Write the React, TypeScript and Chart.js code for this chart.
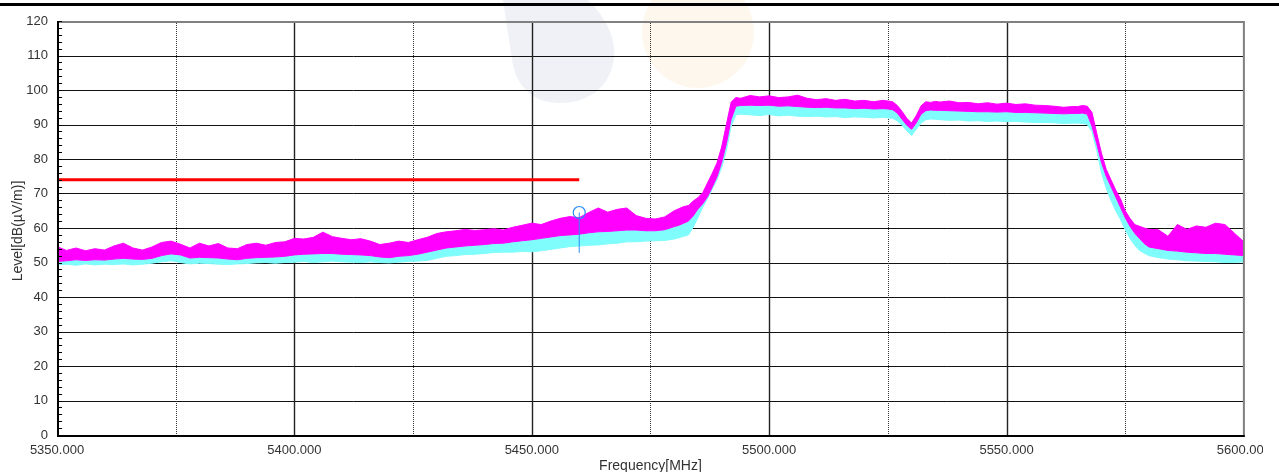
import { useEffect, useRef } from "react";
import { Chart, registerables } from "chart.js";

Chart.register(...registerables);

// ---- data ----
const freqs = [
  5350, 5352, 5354, 5356, 5358, 5360, 5362, 5364, 5366, 5368, 5370, 5372, 5374, 5376, 5378, 5380,
  5382, 5384, 5386, 5388, 5390, 5392, 5394, 5396, 5398, 5400, 5402, 5404, 5406, 5408, 5410, 5412,
  5414, 5416, 5418, 5420, 5422, 5424, 5426, 5428, 5430, 5432, 5434, 5436, 5438, 5440, 5442, 5444,
  5446, 5448, 5450, 5452, 5454, 5456, 5458, 5460, 5462, 5464, 5466, 5468, 5470, 5472, 5474, 5476,
  5478, 5480,
  5481, 5482, 5483, 5484, 5485, 5486, 5487, 5488, 5489, 5490, 5491, 5492, 5493, 5494,
  5496, 5498, 5500, 5502, 5504, 5506, 5508, 5510, 5512, 5514, 5516, 5518, 5520, 5522, 5524,
  5525, 5526, 5527, 5528, 5529, 5530, 5531, 5532, 5533, 5534, 5535,
  5536, 5538, 5540, 5542, 5544, 5546, 5548, 5550, 5552, 5554, 5556, 5558, 5560, 5562, 5564,
  5565, 5566, 5567, 5568, 5569, 5570, 5571, 5572, 5573, 5574, 5575, 5576, 5577, 5578, 5579, 5580,
  5582, 5584, 5586, 5588, 5590, 5592, 5594, 5596, 5598, 5600,
];

// Peak trace (magenta) upper envelope
const peakHigh = [
  54.6, 53.5, 54.2, 53.4, 54.0, 53.6, 54.8, 55.6, 54.2, 53.6, 54.5, 55.8, 56.2, 55.3, 54.2, 55.6,
  54.8, 55.5, 54.2, 54.0, 55.2, 55.6, 55.0, 55.8, 56.0, 57.0, 56.8, 57.3, 58.8, 57.5, 57.0, 56.6,
  56.9, 56.2, 55.2, 55.6, 56.2, 55.8, 56.6, 57.3, 58.4, 58.9, 59.2, 59.6, 59.3, 59.5, 59.8, 59.4,
  60.2, 60.8, 61.4, 61.0, 62.0, 62.8, 63.3, 63.0, 64.5, 65.8, 64.6, 65.4, 65.8, 63.6, 62.8, 62.6,
  63.2, 65.0,
  65.6, 66.2, 66.5, 67.8, 68.8, 70.2, 73.0, 75.8, 78.8, 83.5, 90.0, 96.5, 97.8, 97.6,
  98.4, 98.0, 98.3, 97.8, 98.0, 98.5, 97.6, 97.2, 97.5, 97.0, 97.3, 96.8, 97.0, 96.6, 97.0,
  96.8, 96.6, 95.5, 93.8, 91.8, 90.4, 92.6, 95.4, 96.6, 96.4, 96.7,
  96.5, 96.8, 96.3, 96.4, 96.0, 96.3, 95.9, 96.2, 95.8, 96.0, 95.6, 95.5, 95.3, 95.0, 95.2,
  95.2, 95.5, 95.3, 93.5, 87.5, 81.7, 77.0, 74.0, 71.0, 68.5, 65.0, 62.8, 61.0, 60.5, 60.0, 59.6,
  59.5, 57.6, 61.0, 59.6, 60.6, 60.2, 61.4, 61.0, 58.5, 56.0,
];

// Peak trace (magenta) lower envelope
const peakLow = [
  50.3, 50.5, 50.8, 50.6, 50.8, 50.7, 51.0, 51.2, 51.0, 50.9, 51.2, 52.0, 52.5, 52.2, 51.3, 51.5,
  51.4, 51.3, 51.0, 50.8, 51.2, 51.4, 51.5, 51.6, 51.8, 52.2, 52.4, 52.5, 52.6, 52.6, 52.4, 52.3,
  52.2, 52.0, 51.6, 51.4, 51.8, 52.0, 52.4, 53.0, 53.6, 54.2, 54.5, 54.8, 55.0, 55.2, 55.5, 55.6,
  56.0, 56.3, 56.6, 57.0, 57.4, 57.8, 58.0, 58.2, 58.6, 58.9, 59.0, 59.2, 59.4, 59.4, 59.2, 59.2,
  59.5, 60.4,
  60.8, 61.4, 62.0, 63.5, 65.5, 67.0, 69.0, 71.8, 74.8, 79.0, 84.5, 91.5, 95.3, 95.5,
  95.6, 95.5, 95.6, 95.3, 95.4, 95.2, 95.0, 94.9, 95.0, 94.8, 94.8, 94.6, 94.7, 94.5, 94.6,
  94.5, 94.3, 93.3, 91.5, 89.8, 88.6, 90.5, 93.0, 94.0, 94.2, 94.1,
  94.1, 94.0, 93.9, 93.8, 93.7, 93.7, 93.6, 93.7, 93.5, 93.5, 93.4, 93.3, 93.2, 93.1, 93.2,
  93.2, 93.3, 93.0, 89.5, 84.5, 79.0, 75.0, 72.0, 69.0, 66.0, 63.0, 60.5, 58.5, 57.0, 55.5, 54.5,
  54.0, 53.5, 53.3, 53.0, 52.8, 52.6, 52.6, 52.4, 52.2, 52.0,
];

// Average trace (cyan) lower envelope
const avgLow = [
  49.3, 49.5, 49.2, 49.6, 49.3, 49.5, 49.4, 49.6, 49.3, 49.5, 49.8, 50.2, 50.5, 50.0, 49.6, 49.8,
  49.7, 49.5, 49.4, 49.6, 49.7, 49.9, 50.0, 49.8, 50.0, 50.1, 50.3, 50.0, 50.2, 50.4, 50.2, 50.1,
  50.0, 50.2, 50.0, 49.9, 50.1, 50.3, 50.4, 50.6, 51.2, 51.8, 52.0, 52.3, 52.4, 52.6, 52.9, 53.0,
  53.0, 53.2, 53.1, 53.4, 53.8, 54.2, 54.6, 54.8, 55.0, 55.1, 55.4, 55.6, 56.0, 56.0, 56.2, 56.3,
  56.4, 56.8,
  57.2, 57.6, 58.0, 60.2, 63.0, 66.0, 68.5, 71.2, 74.0, 77.5, 82.5, 89.5, 92.8, 93.0,
  92.8, 92.6, 92.9, 92.5, 92.7, 92.4, 92.3, 92.4, 92.2, 92.3, 92.0, 92.2, 92.1, 91.9, 92.1,
  91.9, 91.8, 91.0, 89.8, 88.2, 86.8, 88.6, 90.4, 91.4, 91.6, 91.5,
  91.4, 91.2, 91.3, 91.0, 91.1, 90.9, 91.0, 90.8, 90.9, 90.7, 90.6, 90.6, 90.5, 90.3, 90.4,
  90.4, 90.3, 90.0, 88.0, 82.5, 76.0, 71.5, 68.0, 65.0, 62.5, 59.5, 57.0, 55.0, 53.5, 52.7, 52.0,
  51.4, 51.0, 50.8, 50.5, 50.4, 50.3, 50.2, 50.0, 50.0, 50.2,
];

const limitFreqs = [5350, 5460];
const limitLevel = 74;

const markerFreq = 5460;
const markerLevel = 64.5;
const markerBase = 52.8;

const xMin = 5350;
const xMax = 5600;
const yMin = 0;
const yMax = 120;
const xMajorGrid = [5400, 5450, 5500, 5550];
const xMinorGrid = [5375, 5425, 5475, 5525, 5575];
const yGrid = [10, 20, 30, 40, 50, 60, 70, 80, 90, 100, 110];

const xTitle = "Frequency[MHz]";
const yTitle = "Level[dB(µV/m)]";

const FONT = "'Liberation Sans', Arial, sans-serif";

const framePlugin = {
  id: "frame",
  beforeDraw(chart: any) {
    const ctx = chart.ctx as CanvasRenderingContext2D;
    ctx.save();
    ctx.fillStyle = "#ffffff";
    ctx.fillRect(0, 0, chart.width, chart.height);
    // faint watermark blobs
    ctx.fillStyle = "#eff1f7";
    ctx.beginPath();
    ctx.moveTo(503, 0);
    ctx.lineTo(588, 0);
    ctx.bezierCurveTo(606, 18, 616, 38, 614, 58);
    ctx.bezierCurveTo(610, 90, 585, 103, 560, 103);
    ctx.bezierCurveTo(532, 103, 516, 86, 512, 60);
    ctx.closePath();
    ctx.fill();
    ctx.fillStyle = "#fdf7ee";
    ctx.beginPath();
    ctx.arc(698, 32, 56, 0, Math.PI * 2);
    ctx.fill();
    // top black rule
    ctx.fillStyle = "#000000";
    ctx.fillRect(0, 3, chart.width, 3);
    ctx.restore();
  },
  beforeDatasetsDraw(chart: any) {
    const ctx = chart.ctx as CanvasRenderingContext2D;
    const { left, right, top, bottom } = chart.chartArea;
    const xs = chart.scales.x;
    const ys = chart.scales.y;
    ctx.save();
    ctx.lineWidth = 1;
    ctx.strokeStyle = "#111111";
    for (const v of yGrid) {
      const py = Math.round(ys.getPixelForValue(v)) + 0.5;
      ctx.beginPath();
      ctx.moveTo(left, py);
      ctx.lineTo(right, py);
      ctx.stroke();
    }
    ctx.strokeStyle = "#222222";
    ctx.lineWidth = 1.4;
    for (const v of xMajorGrid) {
      const px = Math.round(xs.getPixelForValue(v)) + 0.5;
      ctx.beginPath();
      ctx.moveTo(px, top);
      ctx.lineTo(px, bottom);
      ctx.stroke();
    }
    ctx.lineWidth = 1;
    ctx.strokeStyle = "#333333";
    ctx.setLineDash([1, 1]);
    for (const v of xMinorGrid) {
      const px = Math.round(xs.getPixelForValue(v)) + 0.5;
      ctx.beginPath();
      ctx.moveTo(px, top);
      ctx.lineTo(px, bottom);
      ctx.stroke();
    }
    ctx.restore();
  },
  afterDatasetsDraw(chart: any) {
    const ctx = chart.ctx as CanvasRenderingContext2D;
    const { left, right, top, bottom } = chart.chartArea;
    const ys = chart.scales.y;
    ctx.save();
    // top & right frame (grey)
    ctx.fillStyle = "#808080";
    ctx.fillRect(left, top, right - left, 2);
    ctx.fillRect(right - 1, top, 2, bottom - top);
    // left & bottom axes (black)
    ctx.fillStyle = "#000000";
    ctx.fillRect(left, top, 2, bottom - top + 2);
    ctx.fillRect(left, bottom, right - left + 1, 2);
    // minor ticks on y axis
    for (let v = yMin; v <= yMax; v += 2) {
      const py = Math.round(ys.getPixelForValue(v));
      ctx.fillRect(left + 2, py, 3, 1);
    }
    // axis titles
    ctx.fillStyle = "#333333";
    ctx.font = `14px ${FONT}`;
    ctx.textAlign = "center";
    ctx.textBaseline = "alphabetic";
    ctx.fillText(xTitle, (left + right) / 2, 470);
    ctx.translate(22, (top + bottom) / 2 + 3);
    ctx.rotate(-Math.PI / 2);
    ctx.fillText(yTitle, 0, 0);
    ctx.restore();
  },
  afterDraw(chart: any) {
    // the original picture is cut off at its right edge below the axis
    const ctx = chart.ctx as CanvasRenderingContext2D;
    const { bottom } = chart.chartArea;
    ctx.save();
    ctx.fillStyle = "#ffffff";
    ctx.fillRect(1263, bottom + 3, chart.width - 1263, chart.height - bottom - 3);
    ctx.restore();
  },
};

export default function App() {
  const ref = useRef<HTMLCanvasElement | null>(null);

  useEffect(() => {
    if (!ref.current) return;
    const pts = (vals: number[]) => freqs.map((f, i) => ({ x: f, y: vals[i] }));
    const chart = new Chart(ref.current, {
      type: "line",
      data: {
        datasets: [
          {
            label: "Peak",
            data: pts(peakHigh),
            borderColor: "#ff00ff",
            backgroundColor: "#ff00ff",
            borderWidth: 1,
            pointRadius: 0,
            tension: 0,
            fill: { target: 1 },
            order: 1,
          },
          {
            label: "Peak low",
            data: pts(peakLow),
            borderColor: "#ff00ff",
            borderWidth: 1,
            pointRadius: 0,
            tension: 0,
            fill: false,
            order: 1,
          },
          {
            label: "Average",
            data: pts(avgLow),
            borderColor: "#7ffcfc",
            backgroundColor: "#7ffcfc",
            borderWidth: 1,
            pointRadius: 0,
            tension: 0,
            fill: { target: 1 },
            order: 2,
          },
          {
            label: "Limit",
            data: limitFreqs.map((f) => ({ x: f, y: limitLevel })),
            borderColor: "#ff0000",
            borderWidth: 3,
            pointRadius: 0,
            fill: false,
            order: 0,
          },
          {
            label: "Marker",
            data: [
              { x: markerFreq, y: markerBase },
              { x: markerFreq, y: markerLevel },
            ],
            borderColor: "#2a8cf5",
            borderWidth: 1,
            pointRadius: [0, 6],
            pointBorderColor: "#2a8cf5",
            pointBackgroundColor: "rgba(0,0,0,0)",
            pointBorderWidth: 1.2,
            fill: false,
            order: 0,
          },
        ],
      },
      options: {
        responsive: false,
        animation: false,
        devicePixelRatio: 1,
        layout: { padding: { top: 21, right: 33, left: 0, bottom: 0 } },
        plugins: {
          legend: { display: false },
          tooltip: { enabled: false },
        },
        scales: {
          x: {
            type: "linear",
            min: xMin,
            max: xMax,
            grid: { display: false, drawTicks: false },
            border: { display: false },
            ticks: {
              stepSize: 50,
              autoSkip: false,
              maxRotation: 0,
              padding: 8,
              color: "#333333",
              font: { family: FONT, size: 13 },
              callback: (v: any) => Number(v).toFixed(3),
            },
            afterFit: (s: any) => {
              s.height = 37;
            },
          },
          y: {
            type: "linear",
            min: yMin,
            max: yMax,
            grid: { display: false, drawTicks: false },
            border: { display: false },
            ticks: {
              stepSize: 10,
              padding: 9,
              color: "#333333",
              font: { family: FONT, size: 13 },
            },
            afterFit: (s: any) => {
              s.width = 57;
            },
          },
        },
      },
      plugins: [framePlugin],
    });
    return () => chart.destroy();
  }, []);

  return (
    <div style={{ position: "fixed", left: 0, top: 0, width: 1279, height: 472, background: "#fff" }}>
      <canvas ref={ref} width={1279} height={472} style={{ display: "block" }} />
    </div>
  );
}
